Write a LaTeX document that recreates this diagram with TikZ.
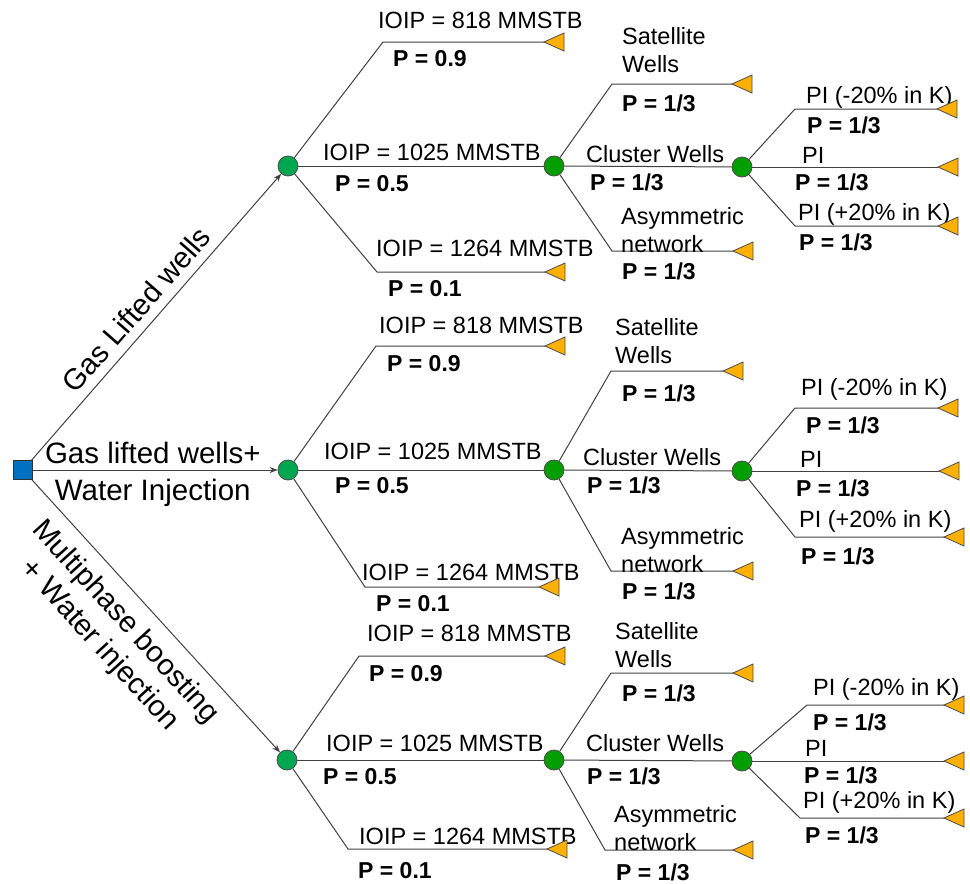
\documentclass[tikz,border=0pt]{standalone}
\usepackage{fontspec}
\setmainfont{Liberation Sans}
\usetikzlibrary{arrows.meta}
\definecolor{decblue}{RGB}{0,112,192}
\definecolor{chgreen}{RGB}{0,166,80}
\definecolor{chgreenb}{RGB}{0,158,0}
\definecolor{leaforange}{RGB}{255,176,0}
\tikzset{
  branch/.style={draw=black!75, line width=1pt},
  arr/.style={branch, -{Stealth[length=8pt,width=6pt]}},
  decision/.style={draw=black!80, fill=decblue, minimum size=19pt, inner sep=0pt, line width=0.8pt},
  chance/.style={circle, draw=black!70, fill=chgreen, minimum size=20pt, inner sep=0pt, line width=0.8pt},
  chanceb/.style={chance, fill=chgreenb},
  leaf/.pic={\filldraw[fill=leaforange, draw=black!70, line width=0.8pt] (0,0) -- (20,-9) -- (20,9) -- cycle;},
  lbl/.style={anchor=west, inner sep=0pt, text height=16.8pt, text depth=0pt, font=\fontsize{23.5}{28}\selectfont},
  prob/.style={lbl, font=\fontsize{23}{28}\selectfont\bfseries},
  twolbl/.style={anchor=west, inner sep=0pt, align=left, font=\fontsize{23.5}{28}\selectfont},
  rootlbl/.style={text height=21pt, text depth=0pt, font=\fontsize{29.5}{35}\selectfont}
}
\begin{document}
\begin{tikzpicture}[x=1pt,y=-1pt]
  \useasboundingbox (0,0) rectangle (970,884);
  \node[decision] (root) at (23,470) {};
  \node[chance] (a1) at (288,166) {};
  \node[chance] (b1) at (288,470) {};
  \node[chance] (c1) at (287,760) {};
  \draw[arr] (root) -- node[rootlbl, sloped, above, pos=0.48, inner sep=9pt] (ga) {Gas Lifted wells} (a1);
  \draw[arr] (root) -- node[rootlbl, above, pos=0.49, inner sep=6.5pt] (gb) {Gas lifted wells+}
    node[rootlbl, below, pos=0.49, inner sep=8.5pt] (gw) {Water Injection} (b1);
  \draw[arr] (root) -- node[sloped, below, pos=0.456, inner sep=12.5pt, align=center,
    font=\fontsize{29.5}{35}\selectfont] (gc) {Multiphase boosting\\+ Water injection} (c1);

  % upper tree
  \node[chanceb] (a2) at (554,166) {};
  \node[chanceb] (a3) at (742,167) {};
  \coordinate (a1u) at (383,42);
  \coordinate (a1ue) at (544,42);
  \coordinate (a1d) at (377,272);
  \coordinate (a1de) at (545,272);
  \coordinate (a2u) at (612,84);
  \coordinate (a2ue) at (732,84);
  \coordinate (a2d) at (612,251);
  \coordinate (a2de) at (733,251);
  \coordinate (a3u) at (795,109);
  \coordinate (a3ue) at (937,109);
  \coordinate (a3me) at (938,167);
  \coordinate (a3d) at (795,226);
  \coordinate (a3de) at (938,226);
  \draw[branch] (a1) -- (a1u) -- (a1ue);
  \draw[branch] (a1) -- (a2);
  \draw[branch] (a1) -- (a1d) -- (a1de);
  \draw[branch] (a2) -- (a2u) -- (a2ue);
  \draw[branch] (a2) -- (a3);
  \draw[branch] (a2) -- (a2d) -- (a2de);
  \draw[branch] (a3) -- (a3u) -- (a3ue);
  \draw[branch] (a3) -- (a3me);
  \draw[branch] (a3) -- (a3d) -- (a3de);
  \node[lbl] (a1t1) at (378,20) {IOIP = 818 MMSTB};
  \node[prob] (a1p1) at (393,58) {P = 0.9};
  \node[lbl] (a1t2) at (323,152) {IOIP = 1025 MMSTB};
  \node[prob] (a1p2) at (335,183) {P = 0.5};
  \node[lbl] (a1t3) at (376,248) {IOIP = 1264 MMSTB};
  \node[prob] (a1p3) at (388,288) {P = 0.1};
  \node[twolbl] (a2t1) at (622,50) {Satellite\\Wells};
  \node[prob] (a2p1) at (622,103) {P = 1/3};
  \node[lbl] (a2t2) at (586,154) {Cluster Wells};
  \node[prob] (a2p2) at (590,182) {P = 1/3};
  \node[twolbl] (a2t3) at (621,230) {Asymmetric\\network};
  \node[prob] (a2p3) at (622,271) {P = 1/3};
  \node[lbl] (a3t1) at (806,95) {PI (-20\% in K)};
  \node[prob] (a3p1) at (807,125) {P = 1/3};
  \node[lbl] (a3t2) at (802,155) {PI};
  \node[prob] (a3p2) at (795,182) {P = 1/3};
  \node[lbl] (a3t3) at (798,212) {PI (+20\% in K)};
  \node[prob] (a3p3) at (799,242) {P = 1/3};

  % middle tree
  \node[chanceb] (b2) at (554,470) {};
  \node[chanceb] (b3) at (742,471) {};
  \coordinate (b1u) at (376,346);
  \coordinate (b1ue) at (545,346);
  \coordinate (b1d) at (365,587);
  \coordinate (b1de) at (539,587);
  \coordinate (b2u) at (611,371);
  \coordinate (b2ue) at (723,371);
  \coordinate (b2d) at (611,571);
  \coordinate (b2de) at (733,571);
  \coordinate (b3u) at (795,408);
  \coordinate (b3ue) at (938,408);
  \coordinate (b3me) at (939,471);
  \coordinate (b3d) at (795,537);
  \coordinate (b3de) at (944,537);
  \draw[branch] (b1) -- (b1u) -- (b1ue);
  \draw[branch] (b1) -- (b2);
  \draw[branch] (b1) -- (b1d) -- (b1de);
  \draw[branch] (b2) -- (b2u) -- (b2ue);
  \draw[branch] (b2) -- (b3);
  \draw[branch] (b2) -- (b2d) -- (b2de);
  \draw[branch] (b3) -- (b3u) -- (b3ue);
  \draw[branch] (b3) -- (b3me);
  \draw[branch] (b3) -- (b3d) -- (b3de);
  \node[lbl] (b1t1) at (379,325) {IOIP = 818 MMSTB};
  \node[prob] (b1p1) at (387,363) {P = 0.9};
  \node[lbl] (b1t2) at (324,451) {IOIP = 1025 MMSTB};
  \node[prob] (b1p2) at (335,485) {P = 0.5};
  \node[lbl] (b1t3) at (362,572) {IOIP = 1264 MMSTB};
  \node[prob] (b1p3) at (376,603) {P = 0.1};
  \node[twolbl] (b2t1) at (615,341) {Satellite\\Wells};
  \node[prob] (b2p1) at (622,393) {P = 1/3};
  \node[lbl] (b2t2) at (583,457) {Cluster Wells};
  \node[prob] (b2p2) at (587,485) {P = 1/3};
  \node[twolbl] (b2t3) at (621,550) {Asymmetric\\network};
  \node[prob] (b2p3) at (622,591) {P = 1/3};
  \node[lbl] (b3t1) at (801,387) {PI (-20\% in K)};
  \node[prob] (b3p1) at (806,425) {P = 1/3};
  \node[lbl] (b3t2) at (800,459) {PI};
  \node[prob] (b3p2) at (796,488) {P = 1/3};
  \node[lbl] (b3t3) at (799,519) {PI (+20\% in K)};
  \node[prob] (b3p3) at (801,556) {P = 1/3};

  % lower tree
  \node[chanceb] (c2) at (554,760) {};
  \node[chanceb] (c3) at (742,761) {};
  \coordinate (c1u) at (359,656);
  \coordinate (c1ue) at (545,656);
  \coordinate (c1d) at (348,849);
  \coordinate (c1de) at (547,849);
  \coordinate (c2u) at (611,673);
  \coordinate (c2ue) at (733,673);
  \coordinate (c2d) at (605,850);
  \coordinate (c2de) at (733,850);
  \coordinate (c3u) at (807,705);
  \coordinate (c3ue) at (944,705);
  \coordinate (c3me) at (944,761);
  \coordinate (c3d) at (800,818);
  \coordinate (c3de) at (944,818);
  \draw[branch] (c1) -- (c1u) -- (c1ue);
  \draw[branch] (c1) -- (c2);
  \draw[branch] (c1) -- (c1d) -- (c1de);
  \draw[branch] (c2) -- (c2u) -- (c2ue);
  \draw[branch] (c2) -- (c3);
  \draw[branch] (c2) -- (c2d) -- (c2de);
  \draw[branch] (c3) -- (c3u) -- (c3ue);
  \draw[branch] (c3) -- (c3me);
  \draw[branch] (c3) -- (c3d) -- (c3de);
  \node[lbl] (c1t1) at (367,633) {IOIP = 818 MMSTB};
  \node[prob] (c1p1) at (369,673) {P = 0.9};
  \node[lbl] (c1t2) at (326,743) {IOIP = 1025 MMSTB};
  \node[prob] (c1p2) at (323,776) {P = 0.5};
  \node[lbl] (c1t3) at (359,836) {IOIP = 1264 MMSTB};
  \node[prob] (c1p3) at (358,870) {P = 0.1};
  \node[twolbl] (c2t1) at (615,645) {Satellite\\Wells};
  \node[prob] (c2p1) at (622,693) {P = 1/3};
  \node[lbl] (c2t2) at (586,743) {Cluster Wells};
  \node[prob] (c2p2) at (587,776) {P = 1/3};
  \node[twolbl] (c2t3) at (614,828) {Asymmetric\\network};
  \node[prob] (c2p3) at (616,872) {P = 1/3};
  \node[lbl] (c3t1) at (813,687) {PI (-20\% in K)};
  \node[prob] (c3p1) at (813,722) {P = 1/3};
  \node[lbl] (c3t2) at (805,748) {PI};
  \node[prob] (c3p2) at (804,775) {P = 1/3};
  \node[lbl] (c3t3) at (803,800) {PI (+20\% in K)};
  \node[prob] (c3p3) at (805,835) {P = 1/3};

  \foreach \e in {a1ue,a1de,a2ue,a2de,a3ue,a3me,a3de,
                  b1ue,b1de,b2ue,b2de,b3ue,b3me,b3de,
                  c1ue,c1de,c2ue,c2de,c3ue,c3me,c3de}
    \pic at (\e) {leaf};
\end{tikzpicture}
\end{document}
